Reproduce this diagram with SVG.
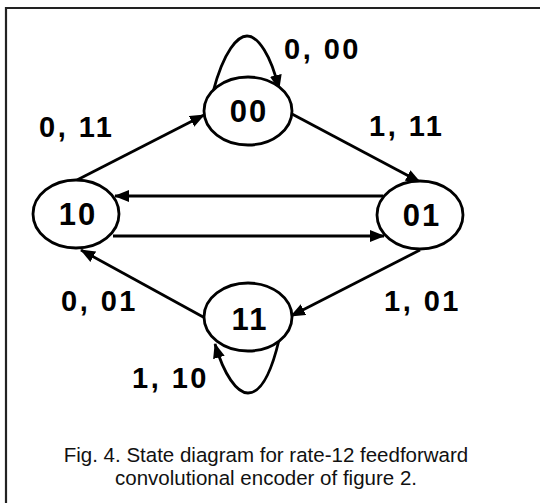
<svg xmlns="http://www.w3.org/2000/svg" width="540" height="503" viewBox="0 0 540 503">
  <style>
    .state { fill: #fff; stroke: #000; stroke-width: 2.8; }
    .sname { font-family: "Liberation Sans", Arial, sans-serif; font-weight: bold; font-size: 31px; letter-spacing: 2px; text-anchor: middle; fill: #000; }
    .lbl { font-family: "Liberation Sans", Arial, sans-serif; font-weight: bold; font-size: 29px; letter-spacing: 2.5px; fill: #000; }
    .edge { fill: none; stroke: #000; stroke-width: 2.8; }
    .cap { font-family: "Liberation Sans", Arial, sans-serif; font-size: 20.5px; text-anchor: middle; fill: #111; }
  </style>
  <defs>
    <marker id="arrow" markerUnits="userSpaceOnUse" markerWidth="16" markerHeight="12" refX="14" refY="6" orient="auto">
      <path d="M0,0 L15,6 L0,12 Z" fill="#000"/>
    </marker>
  </defs>

  <rect width="540" height="503" fill="#fff"/>
  <!-- figure frame (open to the right and bottom) -->
  <path d="M6,510 V8 H545" fill="none" stroke="#222" stroke-width="2.2"/>

  <g id="connectors">
    <path class="edge" d="M77,180 L204,115" marker-end="url(#arrow)"/>
    <path class="edge" d="M292,114 L420,182" marker-end="url(#arrow)"/>
    <path class="edge" d="M383,196 L115,196" marker-end="url(#arrow)"/>
    <path class="edge" d="M113,236 L384,236" marker-end="url(#arrow)"/>
    <path class="edge" d="M205,318 L81,250" marker-end="url(#arrow)"/>
    <path class="edge" d="M420,250 L291,316" marker-end="url(#arrow)"/>
    <path class="edge" d="M213,92 C224,50 238,36 247,36 C258,36 271,55 279,89" marker-end="url(#arrow)"/>
    <path class="edge" d="M279,340 C270,378 259,393 248,393 C237,393 224,375 215,344" marker-end="url(#arrow)"/>
  </g>

  <g id="s00">
    <ellipse class="state" cx="248" cy="111" rx="44" ry="34"/>
    <text class="sname" x="249" y="122">00</text>
  </g>
  <g id="s10">
    <ellipse class="state" cx="76" cy="214" rx="43" ry="34"/>
    <text class="sname" x="78" y="225">10</text>
  </g>
  <g id="s01">
    <ellipse class="state" cx="420" cy="215" rx="43" ry="34"/>
    <text class="sname" x="422" y="226">01</text>
  </g>
  <g id="s11">
    <ellipse class="state" cx="248" cy="317" rx="44" ry="34"/>
    <text class="sname" x="250" y="330">11</text>
  </g>

  <g id="labels">
    <text class="lbl" x="284" y="59">0, 00</text>
    <text class="lbl" x="369" y="136">1, 11</text>
    <text class="lbl" x="39" y="137">0, 11</text>
    <text class="lbl" x="61" y="311">0, 01</text>
    <text class="lbl" x="384" y="311">1, 01</text>
    <text class="lbl" x="132" y="388">1, 10</text>
  </g>

  <g id="caption">
    <text class="cap" x="266" y="462">Fig. 4. State diagram for rate-12 feedforward</text>
    <text class="cap" x="266" y="485">convolutional encoder of figure 2.</text>
  </g>
</svg>
